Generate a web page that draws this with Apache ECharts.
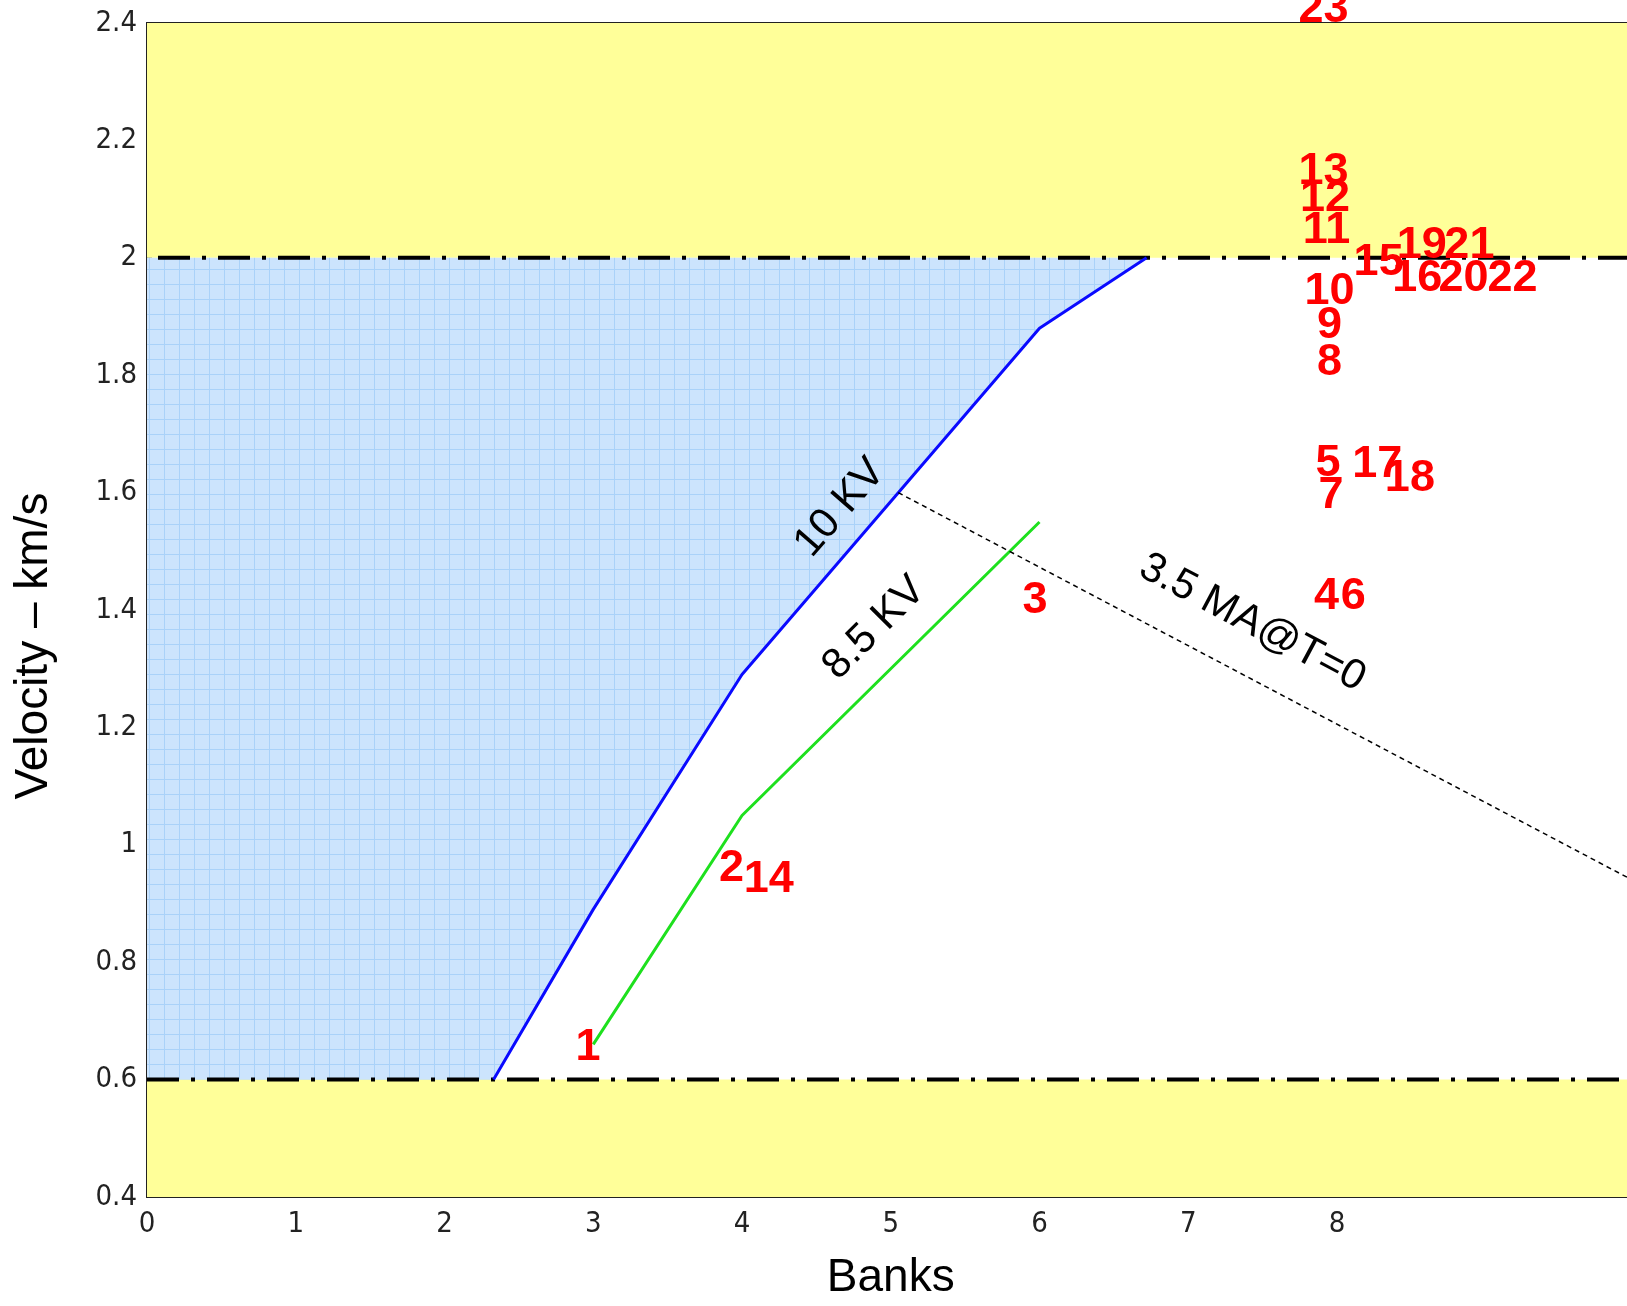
<!DOCTYPE html>
<html>
<head>
<meta charset="utf-8">
<script src="https://cdn.jsdelivr.net/npm/echarts@6/dist/echarts.min.js"></script>
<style>
  html, body { margin: 0; padding: 0; overflow: hidden; background: #fff; }
  #chart { width: 1660px; height: 1306px; }
</style>
</head>
<body>
<div id="chart"></div>
<script>
// Axis ranges and ticks
const xMin = 0, xMax = 10, xStep = 1, xLabelMax = 8;
const yMin = 0.4, yMax = 2.4, yStep = 0.2;

// Operating window limits (velocity, km/s)
const lowerLimit = 0.6;
const upperLimit = 2.0;

// 10 KV charge curve
const kv10Banks    = [2.33, 3.0, 4.0, 5.0, 6.0, 6.72];
const kv10Velocity = [0.60, 0.89, 1.29, 1.585, 1.88, 2.0];

// 8.5 KV charge curve
const kv85Banks    = [3.0, 4.0, 6.0];
const kv85Velocity = [0.66, 1.05, 1.55];

// 3.5 MA @ T=0 current line
const maBanks    = [5.05, 10.0];
const maVelocity = [1.60, 0.938];

// Shot numbers placed at (banks, velocity)
const shotIds      = ['1','2','3','4','5','6','7','8','9','10','11','12','13','14','15','16','17','18','19','20','21','22','23'];
const shotBanks    = [2.965, 3.93, 5.97, 7.93, 7.94, 8.11, 7.96, 7.95, 7.95, 7.95, 7.93, 7.92, 7.91, 4.18, 8.28, 8.54, 8.27, 8.49, 8.57, 8.85, 8.89, 9.18, 7.91];
const shotVelocity = [0.662, 0.967, 1.423, 1.430, 1.657, 1.430, 1.601, 1.829, 1.891, 1.950, 2.054, 2.107, 2.153, 0.947, 1.998, 1.971, 1.654, 1.631, 2.027, 1.971, 2.027, 1.971, 2.430];

// Curve annotations
const noteTexts    = ['10 KV', '8.5 KV', '3.5 MA@T=0'];
const noteBanks    = [4.66, 4.89, 7.43];
const noteVelocity = [1.574, 1.369, 1.378];
const noteAngles   = [49, 45, -28];

const zip = (a, b) => a.map((v, i) => [v, b[i]]);

// light blue tile with a fine grid for the reachable region
function gridTile() {
  const c = document.createElement('canvas');
  c.width = 15; c.height = 15;
  const g = c.getContext('2d');
  g.fillStyle = '#cce4fd';
  g.fillRect(0, 0, 15, 15);
  g.fillStyle = '#aad2f9';
  g.fillRect(14, 0, 1, 15);
  g.fillRect(0, 14, 15, 1);
  return c;
}
const tile = gridTile();

const tickFont = '"Liberation Sans Narrow", "Arial Narrow", "DejaVu Sans Condensed", sans-serif';
const textFont = '"Liberation Sans", Arial, sans-serif';

const chart = echarts.init(document.getElementById('chart'), null, { renderer: 'canvas' });

const dashDot = { color: '#000', width: 4, type: [32, 12, 4, 12] };
const hiddenMark = { color: 'rgba(0,0,0,0)' };

chart.setOption({
  animation: false,
  backgroundColor: '#fff',
  grid: {
    left: 147, top: 23, width: 1487.5, height: 1174,
    containLabel: false, outerBoundsMode: 'none',
    show: true, borderColor: '#222', borderWidth: 2, backgroundColor: 'transparent'
  },
  xAxis: {
    type: 'value', min: xMin, max: xMax, interval: xStep,
    name: 'Banks', nameLocation: 'middle', nameGap: 58, nameMoveOverlap: false,
    nameTextStyle: { fontFamily: textFont, fontSize: 46, color: '#000' },
    axisLine: { show: true, onZero: false, lineStyle: { color: '#222', width: 2 } },
    axisTick: { show: true, inside: true, length: 5, lineStyle: { color: '#222', width: 1.5 } },
    splitLine: { show: false },
    axisLabel: {
      margin: 13, fontFamily: tickFont, fontSize: 29, color: '#222',
      formatter: v => (v <= xLabelMax ? String(v) : '')
    }
  },
  yAxis: {
    type: 'value', min: yMin, max: yMax, interval: yStep,
    name: 'Velocity \u2013 km/s', nameLocation: 'middle', nameGap: 90, nameMoveOverlap: false,
    nameTextStyle: { fontFamily: textFont, fontSize: 46, color: '#000', padding: [0, 72, 0, 0] },
    axisLine: { show: true, onZero: false, lineStyle: { color: '#222', width: 2 } },
    axisTick: { show: true, inside: true, length: 5, lineStyle: { color: '#222', width: 1.5 } },
    splitLine: { show: false },
    axisLabel: { margin: 10, fontFamily: tickFont, fontSize: 29, color: '#222' }
  },
  series: [
    {
      // operating limits with the out-of-window bands
      name: 'upper limit', type: 'line', z: 4, symbol: 'none', silent: true,
      data: [[xMin, upperLimit], [xMax, upperLimit]],
      lineStyle: Object.assign({ dashOffset: 49 }, dashDot),
      markArea: {
        silent: true, z: 1,
        itemStyle: { color: '#ffff99' },
        data: [
          [{ yAxis: upperLimit }, { yAxis: yMax }],
          [{ yAxis: yMin }, { yAxis: lowerLimit }]
        ]
      }
    },
    {
      name: 'lower limit', type: 'line', z: 4, symbol: 'none', silent: true,
      data: [[xMin, lowerLimit], [xMax, lowerLimit]],
      lineStyle: dashDot
    },
    {
      // region left of the 10 KV curve inside the window
      name: 'reachable', type: 'custom', z: 2, silent: true,
      data: [0],
      renderItem: (params, api) => {
        const pts = [api.coord([xMin, lowerLimit])];
        kv10Banks.forEach((b, i) => pts.push(api.coord([b, kv10Velocity[i]])));
        pts.push(api.coord([xMin, upperLimit]));
        return {
          type: 'polygon',
          shape: { points: pts },
          style: { fill: { image: tile, repeat: 'repeat' }, stroke: null }
        };
      }
    },
    {
      name: '10 KV', type: 'line', z: 5, symbol: 'none', silent: true,
      data: zip(kv10Banks, kv10Velocity),
      lineStyle: { color: '#0a0aff', width: 3 }
    },
    {
      name: '8.5 KV', type: 'line', z: 5, symbol: 'none', silent: true,
      data: zip(kv85Banks, kv85Velocity),
      lineStyle: { color: '#1ee01e', width: 3 }
    },
    {
      name: '3.5 MA', type: 'line', z: 5, symbol: 'none', silent: true,
      data: zip(maBanks, maVelocity),
      lineStyle: { color: '#000', width: 1.5, type: [5, 4] }
    },
    {
      name: 'notes', type: 'scatter', z: 6, silent: true, clip: false,
      symbolSize: 2, itemStyle: hiddenMark,
      data: noteTexts.map((t, i) => ({
        value: [noteBanks[i], noteVelocity[i]],
        name: t,
        label: { rotate: noteAngles[i] }
      })),
      label: {
        show: true, position: 'inside', formatter: p => p.name,
        fontFamily: textFont, fontSize: 42, color: '#000', opacity: 1,
        textBorderWidth: 0, textBorderColor: 'transparent',
        align: 'center', verticalAlign: 'middle'
      },
      labelLayout: { hideOverlap: false }
    },
    {
      name: 'shots', type: 'scatter', z: 7, silent: true, clip: false,
      symbolSize: 2, itemStyle: hiddenMark,
      data: shotIds.map((id, i) => ({ value: [shotBanks[i], shotVelocity[i]], name: id })),
      label: {
        show: true, position: [1, 5], formatter: p => p.name,
        fontFamily: textFont, fontWeight: 'bold', fontSize: 45, color: '#ff0000', opacity: 1,
        textBorderWidth: 0, textBorderColor: 'transparent',
        align: 'center', verticalAlign: 'middle'
      },
      labelLayout: { hideOverlap: false }
    }
  ]
});
</script>
</body>
</html>
